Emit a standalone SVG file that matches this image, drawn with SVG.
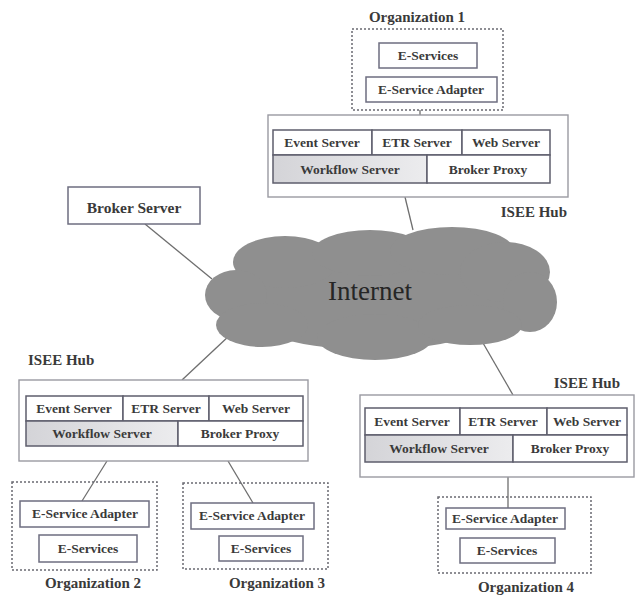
<svg xmlns="http://www.w3.org/2000/svg" width="638" height="596" viewBox="0 0 638 596">
<defs>
<linearGradient id="wf" x1="0" y1="0" x2="1" y2="0">
<stop offset="0" stop-color="#d4d4d8"/>
<stop offset="1" stop-color="#ececee"/>
</linearGradient>
<style>
.t{font-family:"Liberation Serif","Times New Roman",serif;font-weight:bold;font-size:13.5px;fill:#3a3a3a;text-anchor:middle}
.lb{font-family:"Liberation Serif","Times New Roman",serif;font-weight:bold;font-size:15px;fill:#3a3a3a}
.c{fill:#fff;stroke:#5e5e6c;stroke-width:1.5}
.g{fill:url(#wf);stroke:#5e5e6c;stroke-width:1.5}
.o{fill:#fff;stroke:#9a9aa2;stroke-width:1.4}
.d{fill:none;stroke:#6a6a72;stroke-width:1.5;stroke-dasharray:2 2}
.b{fill:#fff;stroke:#6e6e80;stroke-width:1.5}
.l{stroke:#6e6e6e;stroke-width:1.3;fill:none}
.cl{fill:#8f8f8f}
</style>
</defs>
<rect width="638" height="596" fill="#fff"/>

<g id="connectors">
<line class="l" x1="420" y1="110" x2="420" y2="115"/>
<line class="l" x1="405" y1="197" x2="413" y2="230"/>
<line class="l" x1="145" y1="224" x2="212" y2="279"/>
<line class="l" x1="230" y1="335" x2="182" y2="380"/>
<line class="l" x1="483" y1="343" x2="513" y2="395"/>
<line class="l" x1="107" y1="461" x2="82" y2="501"/>
<line class="l" x1="228" y1="461" x2="253" y2="503"/>
<line class="l" x1="508" y1="477" x2="508" y2="508"/>
</g>

<g id="internet">
<g class="cl">
<ellipse cx="372" cy="295" rx="150" ry="55"/>
<ellipse cx="285" cy="262" rx="52" ry="26"/>
<ellipse cx="370" cy="253" rx="58" ry="23"/>
<ellipse cx="452" cy="251" rx="62" ry="24"/>
<ellipse cx="505" cy="272" rx="45" ry="30"/>
<ellipse cx="530" cy="302" rx="27" ry="30"/>
<ellipse cx="236" cy="295" rx="31" ry="25"/>
<ellipse cx="262" cy="325" rx="46" ry="22"/>
<ellipse cx="375" cy="337" rx="58" ry="23"/>
<ellipse cx="470" cy="325" rx="52" ry="20"/>
</g>
<text x="370" y="300" style="font-family:'Liberation Serif','Times New Roman',serif;font-size:27px;fill:#262626;text-anchor:middle">Internet</text>
</g>

<g id="org1">
<text class="lb" x="417" y="22" text-anchor="middle">Organization 1</text>
<rect class="d" x="352" y="29" width="151" height="81"/>
<rect class="b" x="379" y="43" width="98" height="25"/>
<text class="t" x="428" y="60">E-Services</text>
<rect class="b" x="366" y="77" width="131" height="25"/>
<text class="t" x="431" y="94">E-Service Adapter</text>
</g>

<g id="hub1">
<rect class="o" x="268" y="115" width="300" height="82"/>
<rect class="c" x="273" y="130" width="99" height="25"/>
<rect class="c" x="372" y="130" width="90" height="25"/>
<rect class="c" x="462" y="130" width="88" height="25"/>
<rect class="g" x="273" y="155" width="154" height="28"/>
<rect class="c" x="427" y="155" width="123" height="28"/>
<text class="t" x="322" y="147">Event Server</text>
<text class="t" x="417" y="147">ETR Server</text>
<text class="t" x="506" y="147">Web Server</text>
<text class="t" x="350" y="174">Workflow Server</text>
<text class="t" x="488" y="174">Broker Proxy</text>
<text class="lb" x="567" y="217" text-anchor="end">ISEE Hub</text>
</g>

<g id="broker">
<rect class="b" x="68" y="187" width="132" height="37"/>
<text class="lb" x="134" y="213" text-anchor="middle" style="font-size:15.5px">Broker Server</text>
</g>

<g id="hub2">
<text class="lb" x="28" y="365">ISEE Hub</text>
<rect class="o" x="19" y="380" width="289" height="81"/>
<rect class="c" x="26" y="396" width="97" height="25"/>
<rect class="c" x="123" y="396" width="86" height="25"/>
<rect class="c" x="209" y="396" width="94" height="25"/>
<rect class="g" x="26" y="421" width="152" height="25"/>
<rect class="c" x="178" y="421" width="125" height="25"/>
<text class="t" x="74" y="413">Event Server</text>
<text class="t" x="166" y="413">ETR Server</text>
<text class="t" x="256" y="413">Web Server</text>
<text class="t" x="102" y="438">Workflow Server</text>
<text class="t" x="240" y="438">Broker Proxy</text>
</g>

<g id="org2">
<rect class="d" x="12" y="482" width="145" height="88"/>
<rect class="b" x="20" y="501" width="129" height="26"/>
<text class="t" x="85" y="518">E-Service Adapter</text>
<rect class="b" x="39" y="535" width="98" height="27"/>
<text class="t" x="88" y="553">E-Services</text>
<text class="lb" x="93" y="588" text-anchor="middle">Organization 2</text>
</g>

<g id="org3">
<rect class="d" x="183" y="483" width="145" height="86"/>
<rect class="b" x="191" y="503" width="123" height="26"/>
<text class="t" x="252" y="520">E-Service Adapter</text>
<rect class="b" x="219" y="536" width="84" height="25"/>
<text class="t" x="261" y="553">E-Services</text>
<text class="lb" x="277" y="588" text-anchor="middle">Organization 3</text>
</g>

<g id="hub4">
<text class="lb" x="620" y="388" text-anchor="end">ISEE Hub</text>
<rect class="o" x="360" y="395" width="274" height="82"/>
<rect class="c" x="365" y="408" width="95" height="27"/>
<rect class="c" x="460" y="408" width="87" height="27"/>
<rect class="c" x="547" y="408" width="80" height="27"/>
<rect class="g" x="365" y="435" width="148" height="27"/>
<rect class="c" x="513" y="435" width="114" height="27"/>
<text class="t" x="412" y="426">Event Server</text>
<text class="t" x="503" y="426">ETR Server</text>
<text class="t" x="587" y="426">Web Server</text>
<text class="t" x="439" y="453">Workflow Server</text>
<text class="t" x="570" y="453">Broker Proxy</text>
</g>

<g id="org4">
<rect class="d" x="438" y="497" width="153" height="76"/>
<rect class="b" x="446" y="508" width="119" height="21"/>
<text class="t" x="505" y="523">E-Service Adapter</text>
<rect class="b" x="460" y="538" width="95" height="25"/>
<text class="t" x="507" y="555">E-Services</text>
<text class="lb" x="526" y="592" text-anchor="middle">Organization 4</text>
</g>
</svg>
